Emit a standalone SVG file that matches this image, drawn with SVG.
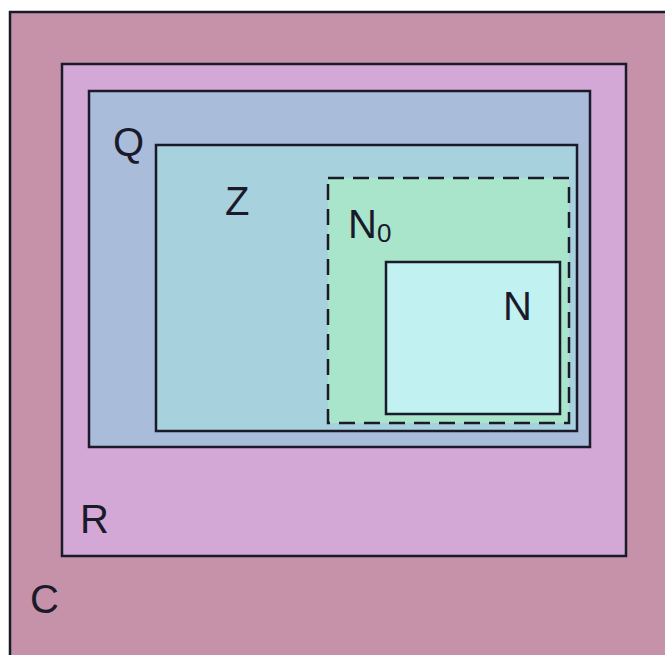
<svg xmlns="http://www.w3.org/2000/svg" width="665" height="655" viewBox="0 0 665 655">
<style>
.box{stroke:#1a1a2a;stroke-width:2.5}
.lbl{font-family:"Liberation Sans",Arial,sans-serif;font-size:40px;fill:#1a1a2a}
.sub{font-family:"Liberation Sans",Arial,sans-serif;font-size:26px;fill:#1a1a2a}
</style>
<rect width="665" height="655" fill="#ffffff"/>
<g id="C">
<rect class="box" x="10" y="12" width="670" height="660" fill="#c592a9"/>
<text class="lbl" x="30" y="613">C</text>
</g>
<g id="R">
<rect class="box" x="62" y="64" width="564" height="492" fill="#d4a8d6"/>
<text class="lbl" x="80" y="533">R</text>
</g>
<g id="Q">
<rect class="box" x="89" y="91" width="501" height="356" fill="#a9bcd9"/>
<text class="lbl" x="113" y="156">Q</text>
</g>
<g id="Z">
<rect class="box" x="156" y="145" width="421" height="286" fill="#a8d1de"/>
<text class="lbl" x="225" y="215">Z</text>
</g>
<g id="N0">
<rect x="328" y="178" width="241" height="245" fill="#a9e5cb" stroke="#1a1a2a" stroke-width="2.5" stroke-dasharray="16,9"/>
<text class="lbl" x="348" y="238">N<tspan class="sub" dy="4">0</tspan></text>
</g>
<g id="N">
<rect class="box" x="386" y="262" width="174" height="152" fill="#c1f1f1"/>
<text class="lbl" x="503" y="320">N</text>
</g>
<g id="connectors"></g>
</svg>
